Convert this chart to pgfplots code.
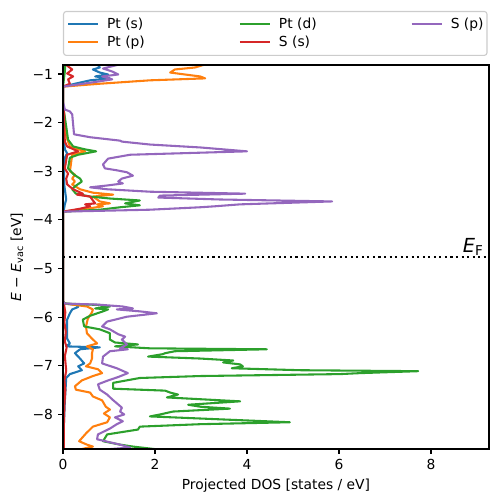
\documentclass[border=0pt]{standalone}
\usepackage{fontspec}
\setmainfont{DejaVu Sans}
\usepackage{pgfplots}
\pgfplotsset{compat=1.18}
\definecolor{tabblue}{HTML}{1F77B4}
\definecolor{taborange}{HTML}{FF7F0E}
\definecolor{tabgreen}{HTML}{2CA02C}
\definecolor{tabred}{HTML}{D62728}
\definecolor{tabpurple}{HTML}{9467BD}
\begin{document}
\begin{tikzpicture}
\useasboundingbox (0,0) rectangle (4.98in,5.02in);
\begin{axis}[
  at={(0.63in,0.53in)}, anchor=south west,
  scale only axis, width=4.26in, height=3.84in,
  xmin=0, xmax=9.26, ymin=-8.71, ymax=-0.815,
  axis on top,
  axis line style={line width=0.8pt},
  tick align=outside, major tick length=0.0486in,
  every tick/.style={black, line width=0.8pt},
  xtick pos=left, ytick pos=left,
  xtick={0,2,4,6,8}, xticklabels={0,2,4,6,8},
  ytick={-8,-7,-6,-5,-4,-3,-2,-1},
  yticklabels={−8,−7,−6,−5,−4,−3,−2,−1},
  tick label style={inner sep=0pt, font=\fontsize{10}{12}\selectfont},
  xticklabel shift=3.5pt, yticklabel shift=3.5pt,
  every axis x label/.style={at={(axis description cs:0.5,-0.0966)}, anchor=center},
  every axis y label/.style={at={(axis description cs:-0.108,0.5)}, rotate=90, anchor=center},
  xlabel={Projected DOS [states / eV]},
  ylabel={\textit{E} − \textit{E}\textsubscript{vac} [eV]},
  label style={font=\fontsize{10}{12}\selectfont},
  legend columns=3,
  legend image code/.code={\draw[#1, line width=1.5pt] (0in,0in) -- (0.3in,0in);},
  legend style={
    at={(axis description cs:0,1.0235)}, anchor=south west,
    draw=black!20, line width=0.8pt, rounded corners=2pt, fill=white,
    inner xsep=0.035in, inner ysep=0.04in,
    /tikz/every odd column/.append style={column sep=0.08in},
    /tikz/every even column/.append style={column sep=0.94in},
    nodes={inner sep=0pt, text height=9.5pt, text depth=3.5pt, anchor=west},
    font=\fontsize{10}{12}\selectfont,
  },
]
% Pt (s)
\addplot[tabblue, line width=1.5pt, line join=round, forget plot] coordinates {
(0.75,-0.80) (0.80,-0.866) (0.65,-0.907) (0.80,-0.97) (0.98,-1.01) (0.70,-1.05) (1.02,-1.09) (0.59,-1.13) (0.26,-1.2) (0,-1.26)
(0,-1.73) (0.02,-1.77) (0.03,-2.4) (0.04,-2.55) (0.09,-2.63) (0.04,-2.72) (0.02,-2.9) (0.03,-3.3) (0.07,-3.58) (0.04,-3.68) (0.02,-3.79) (0,-3.83)
(0,-5.68) (0.04,-5.72) (0.30,-5.75) (0.33,-5.79) (0.20,-5.84) (0.15,-5.92) (0.09,-6.05) (0.09,-6.44) (0.15,-6.54) (0.07,-6.60) (0.80,-6.62) (0.37,-6.66) (0.26,-6.74) (0.37,-6.85) (0.46,-6.95) (0.33,-7.01) (0.41,-7.09) (0.15,-7.17) (0.07,-7.25) (0.04,-7.73) (0.02,-8.2) (0.02,-8.8)
};
% Pt (p)
\addplot[taborange, line width=1.5pt, line join=round, forget plot] coordinates {
(3.1,-0.80) (2.87,-0.866) (2.43,-0.907) (2.33,-0.97) (2.65,-1.01) (2.98,-1.05) (3.09,-1.09) (1.89,-1.13) (0.8,-1.2) (0,-1.26)
(0,-1.73) (0.02,-1.77) (0.05,-2.2) (0.11,-2.39) (0.15,-2.49) (0.48,-2.59) (0.2,-2.66) (0.15,-3.0) (0.26,-3.07) (0.2,-3.15) (0.26,-3.21) (0.2,-3.27) (0.37,-3.37) (0.65,-3.44) (1.09,-3.48) (0.65,-3.52) (0.8,-3.62) (1.02,-3.66) (0.74,-3.68) (0.87,-3.72) (0.52,-3.77) (0,-3.83)
(0,-5.68) (0.04,-5.72) (0.52,-5.78) (0.65,-5.84) (0.63,-5.90) (0.54,-6.03) (0.50,-6.19) (0.52,-6.33) (0.63,-6.44) (0.74,-6.54) (0.52,-6.60) (0.65,-6.66) (0.63,-6.74) (0.63,-6.85) (0.59,-6.95) (0.50,-7.01) (0.76,-7.07) (0.85,-7.15) (0.65,-7.21) (0.41,-7.30) (0.26,-7.42) (0.28,-7.49) (0.59,-7.55) (0.65,-7.63) (0.85,-7.71) (0.93,-7.84) (1.02,-7.90) (0.89,-7.98) (1.02,-8.06) (0.96,-8.16) (0.65,-8.25) (0.50,-8.39) (0.35,-8.55) (0.52,-8.62) (0.65,-8.66) (0.37,-8.72) (0.3,-8.8)
};
% Pt (d)
\addplot[tabgreen, line width=1.5pt, line join=round, forget plot] coordinates {
(0.05,-0.80) (0.04,-0.95) (0.02,-1.1) (0,-1.26)
(0,-1.73) (0.02,-1.77) (0.07,-2.08) (0.11,-2.35) (0.22,-2.49) (0.48,-2.55) (0.72,-2.59) (0.33,-2.66) (0.15,-2.72) (0.11,-2.94) (0.24,-3.07) (0.37,-3.15) (0.41,-3.21) (0.26,-3.31) (0.2,-3.37) (0.28,-3.46) (0.59,-3.52) (1.02,-3.56) (1.67,-3.60) (1.35,-3.66) (1.67,-3.70) (1.24,-3.74) (0.8,-3.79) (0,-3.83)
(0,-5.68) (0.04,-5.72) (0.80,-5.75) (1.02,-5.78) (0.70,-5.82) (0.98,-5.84) (0.87,-5.88) (0.59,-5.97) (0.43,-6.05) (0.46,-6.19) (0.80,-6.25) (1.02,-6.33) (1.02,-6.46) (1.13,-6.52) (1.63,-6.56) (1.13,-6.60) (1.89,-6.64) (4.43,-6.66) (2.43,-6.70) (2.22,-6.74) (2.17,-6.76) (1.85,-6.81) (2.98,-6.85) (3.70,-6.89) (3.48,-6.93) (3.85,-6.97) (3.91,-7.01) (3.67,-7.05) (5.15,-7.09) (7.72,-7.11) (6.46,-7.15) (6.02,-7.17) (2.98,-7.21) (1.67,-7.25) (1.09,-7.35) (1.09,-7.47) (2.22,-7.51) (2.33,-7.55) (2.5,-7.59) (2.26,-7.65) (3.85,-7.73) (2.72,-7.80) (2.98,-7.84) (3.63,-7.88) (2.39,-7.94) (2.11,-8.00) (1.89,-8.04) (3.41,-8.10) (4.93,-8.16) (2.98,-8.20) (1.67,-8.25) (1.63,-8.31) (0.96,-8.41) (0.87,-8.55) (1.24,-8.62) (1.52,-8.66) (2.07,-8.72) (2.3,-8.8)
};
% S (s)
\addplot[tabred, line width=1.5pt, line join=round, forget plot] coordinates {
(0.05,-0.80) (0.2,-0.907) (0.09,-0.99) (0.22,-1.05) (0.11,-1.11) (0.15,-1.2) (0,-1.26)
(0,-1.73) (0.02,-1.77) (0.03,-2.2) (0.04,-2.39) (0.09,-2.49) (0.33,-2.59) (0.09,-2.66) (0.04,-2.94) (0.11,-3.05) (0.07,-3.15) (0.09,-3.27) (0.22,-3.37) (0.43,-3.46) (0.30,-3.48) (0.59,-3.52) (0.65,-3.60) (0.70,-3.66) (0.48,-3.68) (0.59,-3.72) (0.37,-3.77) (0,-3.83)
(0,-5.68) (0.02,-5.72) (0.05,-5.9) (0.03,-6.1) (0.06,-6.3) (0.04,-6.5) (0.08,-6.62) (0.04,-6.8) (0.07,-7.1) (0.03,-7.3) (0.05,-7.5) (0.03,-7.8) (0.02,-8.2) (0.02,-8.8)
};
% S (p)
\addplot[tabpurple, line width=1.5pt, line join=round, forget plot] coordinates {
(1.24,-0.80) (0.87,-0.887) (1.07,-0.949) (1.2,-1.01) (0.85,-1.05) (1.07,-1.11) (0.8,-1.15) (0,-1.26)
(0,-1.57) (0.04,-1.73) (0.15,-1.77) (0.2,-1.83) (0.24,-2.24) (0.59,-2.3) (1.24,-2.37) (1.28,-2.39) (1.89,-2.45) (2.98,-2.51) (4.0,-2.59) (1.46,-2.66) (0.98,-2.74) (0.87,-2.86) (0.91,-2.94) (1.17,-2.98) (1.39,-3.02) (1.52,-3.09) (1.28,-3.15) (1.2,-3.21) (1.3,-3.25) (0.98,-3.29) (0.59,-3.33) (0.96,-3.37) (1.89,-3.42) (3.96,-3.46) (2.11,-3.50) (2.07,-3.54) (3.41,-3.58) (5.85,-3.62) (3.85,-3.68) (3.3,-3.72) (2.98,-3.74) (1.89,-3.79) (0,-3.83)
(0,-5.68) (0.04,-5.72) (0.74,-5.74) (1.30,-5.78) (1.52,-5.82) (1.17,-5.84) (1.67,-5.88) (2.04,-5.92) (1.39,-5.99) (0.96,-6.09) (0.85,-6.19) (1.02,-6.25) (1.20,-6.35) (1.35,-6.40) (1.28,-6.46) (1.39,-6.56) (1.24,-6.64) (1.41,-6.66) (1.02,-6.70) (0.87,-6.81) (0.85,-6.95) (1.17,-7.05) (1.41,-7.15) (1.20,-7.23) (0.98,-7.30) (0.76,-7.38) (0.80,-7.49) (0.96,-7.59) (1.07,-7.69) (1.17,-7.77) (1.28,-7.86) (1.24,-7.94) (1.33,-8.00) (1.13,-8.06) (1.30,-8.14) (1.17,-8.20) (1.02,-8.29) (0.76,-8.41) (0.74,-8.51) (1.24,-8.62) (1.46,-8.68) (0.91,-8.72) (0.8,-8.8)
};
% Fermi level
\addplot[black, line width=1.5pt, dash pattern=on 1.5pt off 2.5pt, forget plot] coordinates {(0,-4.77) (9.26,-4.77)};
\node[anchor=south east, inner sep=1pt, font=\fontsize{14}{16}\selectfont] at (axis cs:9.18,-4.77) {\textit{E}\textsubscript{F}};
% legend (matplotlib column-major order)
\addlegendimage{tabblue}\addlegendentry{Pt (s)}
\addlegendimage{tabgreen}\addlegendentry{Pt (d)}
\addlegendimage{tabpurple}\addlegendentry{S (p)}
\addlegendimage{taborange}\addlegendentry{Pt (p)}
\addlegendimage{tabred}\addlegendentry{S (s)}
\end{axis}
\end{tikzpicture}
\end{document}
